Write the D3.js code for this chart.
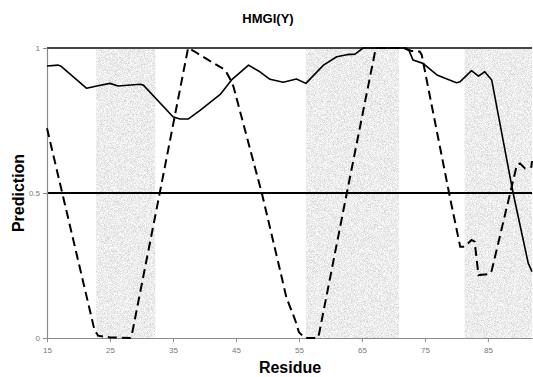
<!DOCTYPE html>
<html>
<head>
<meta charset="utf-8">
<script src="https://cdnjs.cloudflare.com/ajax/libs/d3/7.8.5/d3.min.js"></script>
<style>
  body { margin: 0; background: #fff; }
  svg { display: block; font-family: "Liberation Sans", Arial, sans-serif; }
</style>
</head>
<body>
<svg id="chart" width="533" height="377"></svg>
<script>
// residue ranges shaded grey
const bandStart = [22.8, 56.1, 81.3];
const bandEnd = [32.2, 70.9, 92];

// solid line
const solidRes = [15, 16.8, 17.3, 21.3, 22.9, 25, 26.3, 29.8, 30.3, 35, 36.1, 37.4, 39.3, 42.5, 44.3,
  47, 48.8, 50.4, 52.5, 54.6, 56.1, 58.9, 61, 62.6, 63.9, 65.2, 72, 72.5, 73.1, 74.7, 76.9, 80,
  80.6, 82.4, 83.5, 84.5, 85.6, 87.4, 89, 91.4, 92];
const solidVal = [0.938, 0.941, 0.936, 0.861, 0.869, 0.878, 0.869, 0.875, 0.872, 0.763, 0.755, 0.755, 0.785, 0.84, 0.89,
  0.941, 0.918, 0.892, 0.882, 0.893, 0.878, 0.941, 0.97, 0.977, 0.979, 1.0, 1.0, 0.99, 0.959, 0.947, 0.907, 0.880,
  0.884, 0.922, 0.903, 0.918, 0.89, 0.683, 0.5, 0.258, 0.229];

// dashed line
const dashRes = [15, 22.6, 22.9, 23.1, 25, 28.2, 28.4, 32.9, 37.4, 38.5, 39.3, 43.3, 44, 44.6, 49.1,
  52, 53, 54.4, 55, 55.7, 56, 57.9, 58.1, 62.6, 67.2, 71.5, 72.9, 74.2, 74.5, 74.7, 79, 80.6, 81.3,
  82.4, 82.9, 83.5, 85.3, 85.6, 89.6, 90.1, 90.9, 91.9, 92];
const dashVal = [0.723, 0.022, 0.016, 0.008, 0.002, 0.0, 0.004, 0.5, 1.0, 0.987, 0.976, 0.924, 0.896, 0.867, 0.5,
  0.234, 0.14, 0.062, 0.02, 0.005, 0.0, 0.0, 0.004, 0.5, 1.0, 1.0, 0.99, 0.987, 0.976, 0.953, 0.482, 0.315, 0.315,
  0.338, 0.332, 0.217, 0.221, 0.232, 0.597, 0.602, 0.585, 0.59, 0.61];

const xTicks = [15, 25, 35, 45, 55, 65, 75, 85];
const yTicks = [0, 0.5, 1];

const svg = d3.select('#chart');
const padL = 47, padR = 532, padT = 48, padB = 338;

const x = d3.scaleLinear().domain([15, 92]).range([padL, padR]);
const y = d3.scaleLinear().domain([0, 1]).range([padB, padT]);

// speckled grey texture for the bands
const filt = svg.append('defs').append('filter').attr('id', 'grain')
  .attr('x', 0).attr('y', 0).attr('width', 1).attr('height', 1);
filt.append('feTurbulence').attr('type', 'fractalNoise').attr('baseFrequency', 1.3)
  .attr('numOctaves', 1).attr('seed', 4).attr('result', 'n');
filt.append('feColorMatrix').attr('in', 'n').attr('type', 'matrix')
  .attr('values', '0.8 0 0 0 0.44  0.8 0 0 0 0.44  0.8 0 0 0 0.44  0 0 0 0 1').attr('result', 'g');
filt.append('feComposite').attr('in', 'g').attr('in2', 'SourceGraphic').attr('operator', 'in');

svg.selectAll('rect.band')
  .data(bandStart)
  .enter()
  .append('rect')
  .attr('class', 'band')
  .attr('x', (d) => x(d))
  .attr('width', (d, i) => x(bandEnd[i]) - x(d))
  .attr('y', y(1))
  .attr('height', y(0) - y(1))
  .attr('fill', '#d8d8d8')
  .attr('filter', 'url(#grain)');

// grid lines at 0.5 and 1
svg.selectAll('line.grid')
  .data([0.5, 1])
  .enter()
  .append('line')
  .attr('x1', padL).attr('x2', padR)
  .attr('y1', (d) => y(d)).attr('y2', (d) => y(d))
  .attr('stroke', (d) => d === 1 ? '#444' : '#000')
  .attr('stroke-width', 2);

// axes
const xAxis = svg.append('g')
  .attr('transform', `translate(0,${padB})`)
  .call(d3.axisBottom(x).tickValues(xTicks).tickSize(4).tickSizeOuter(0).tickPadding(5));
const yAxis = svg.append('g')
  .attr('transform', `translate(${padL},0)`)
  .call(d3.axisLeft(y).tickValues(yTicks).tickSize(4).tickSizeOuter(0).tickPadding(3)
    .tickFormat((d) => d === 0.5 ? '0.5' : String(d)));

[xAxis, yAxis].forEach((g) => {
  g.select('.domain').attr('stroke', '#8a8a8a').attr('stroke-width', 1.2);
  g.selectAll('.tick line').attr('stroke', '#8a8a8a');
  g.selectAll('.tick text').attr('fill', '#777').style('font-size', '8px')
    .style('font-family', '"Liberation Sans", Arial, sans-serif');
});

// lines
const solidPts = solidRes.map((r, i) => [r, solidVal[i]]);
const dashPts = dashRes.map((r, i) => [r, dashVal[i]]);
const line = d3.line().x((d) => x(d[0])).y((d) => y(d[1]));

svg.append('path')
  .attr('d', line(dashPts))
  .attr('fill', 'none')
  .attr('stroke', '#000')
  .attr('stroke-width', 2)
  .attr('stroke-dasharray', '9,5');

svg.append('path')
  .attr('d', line(solidPts))
  .attr('fill', 'none')
  .attr('stroke', '#000')
  .attr('stroke-width', 1.6)
  .attr('stroke-linejoin', 'round');

// titles
svg.append('text')
  .attr('x', 268).attr('y', 23)
  .attr('text-anchor', 'middle')
  .style('font-size', '13px').style('font-weight', 'bold')
  .text('HMGI(Y)');

svg.append('text')
  .attr('x', 290).attr('y', 373)
  .attr('text-anchor', 'middle')
  .style('font-size', '16px').style('font-weight', 'bold')
  .text('Residue');

svg.append('text')
  .attr('transform', 'translate(24,193) rotate(-90)')
  .attr('text-anchor', 'middle')
  .style('font-size', '16px').style('font-weight', 'bold')
  .text('Prediction');
</script>
</body>
</html>
